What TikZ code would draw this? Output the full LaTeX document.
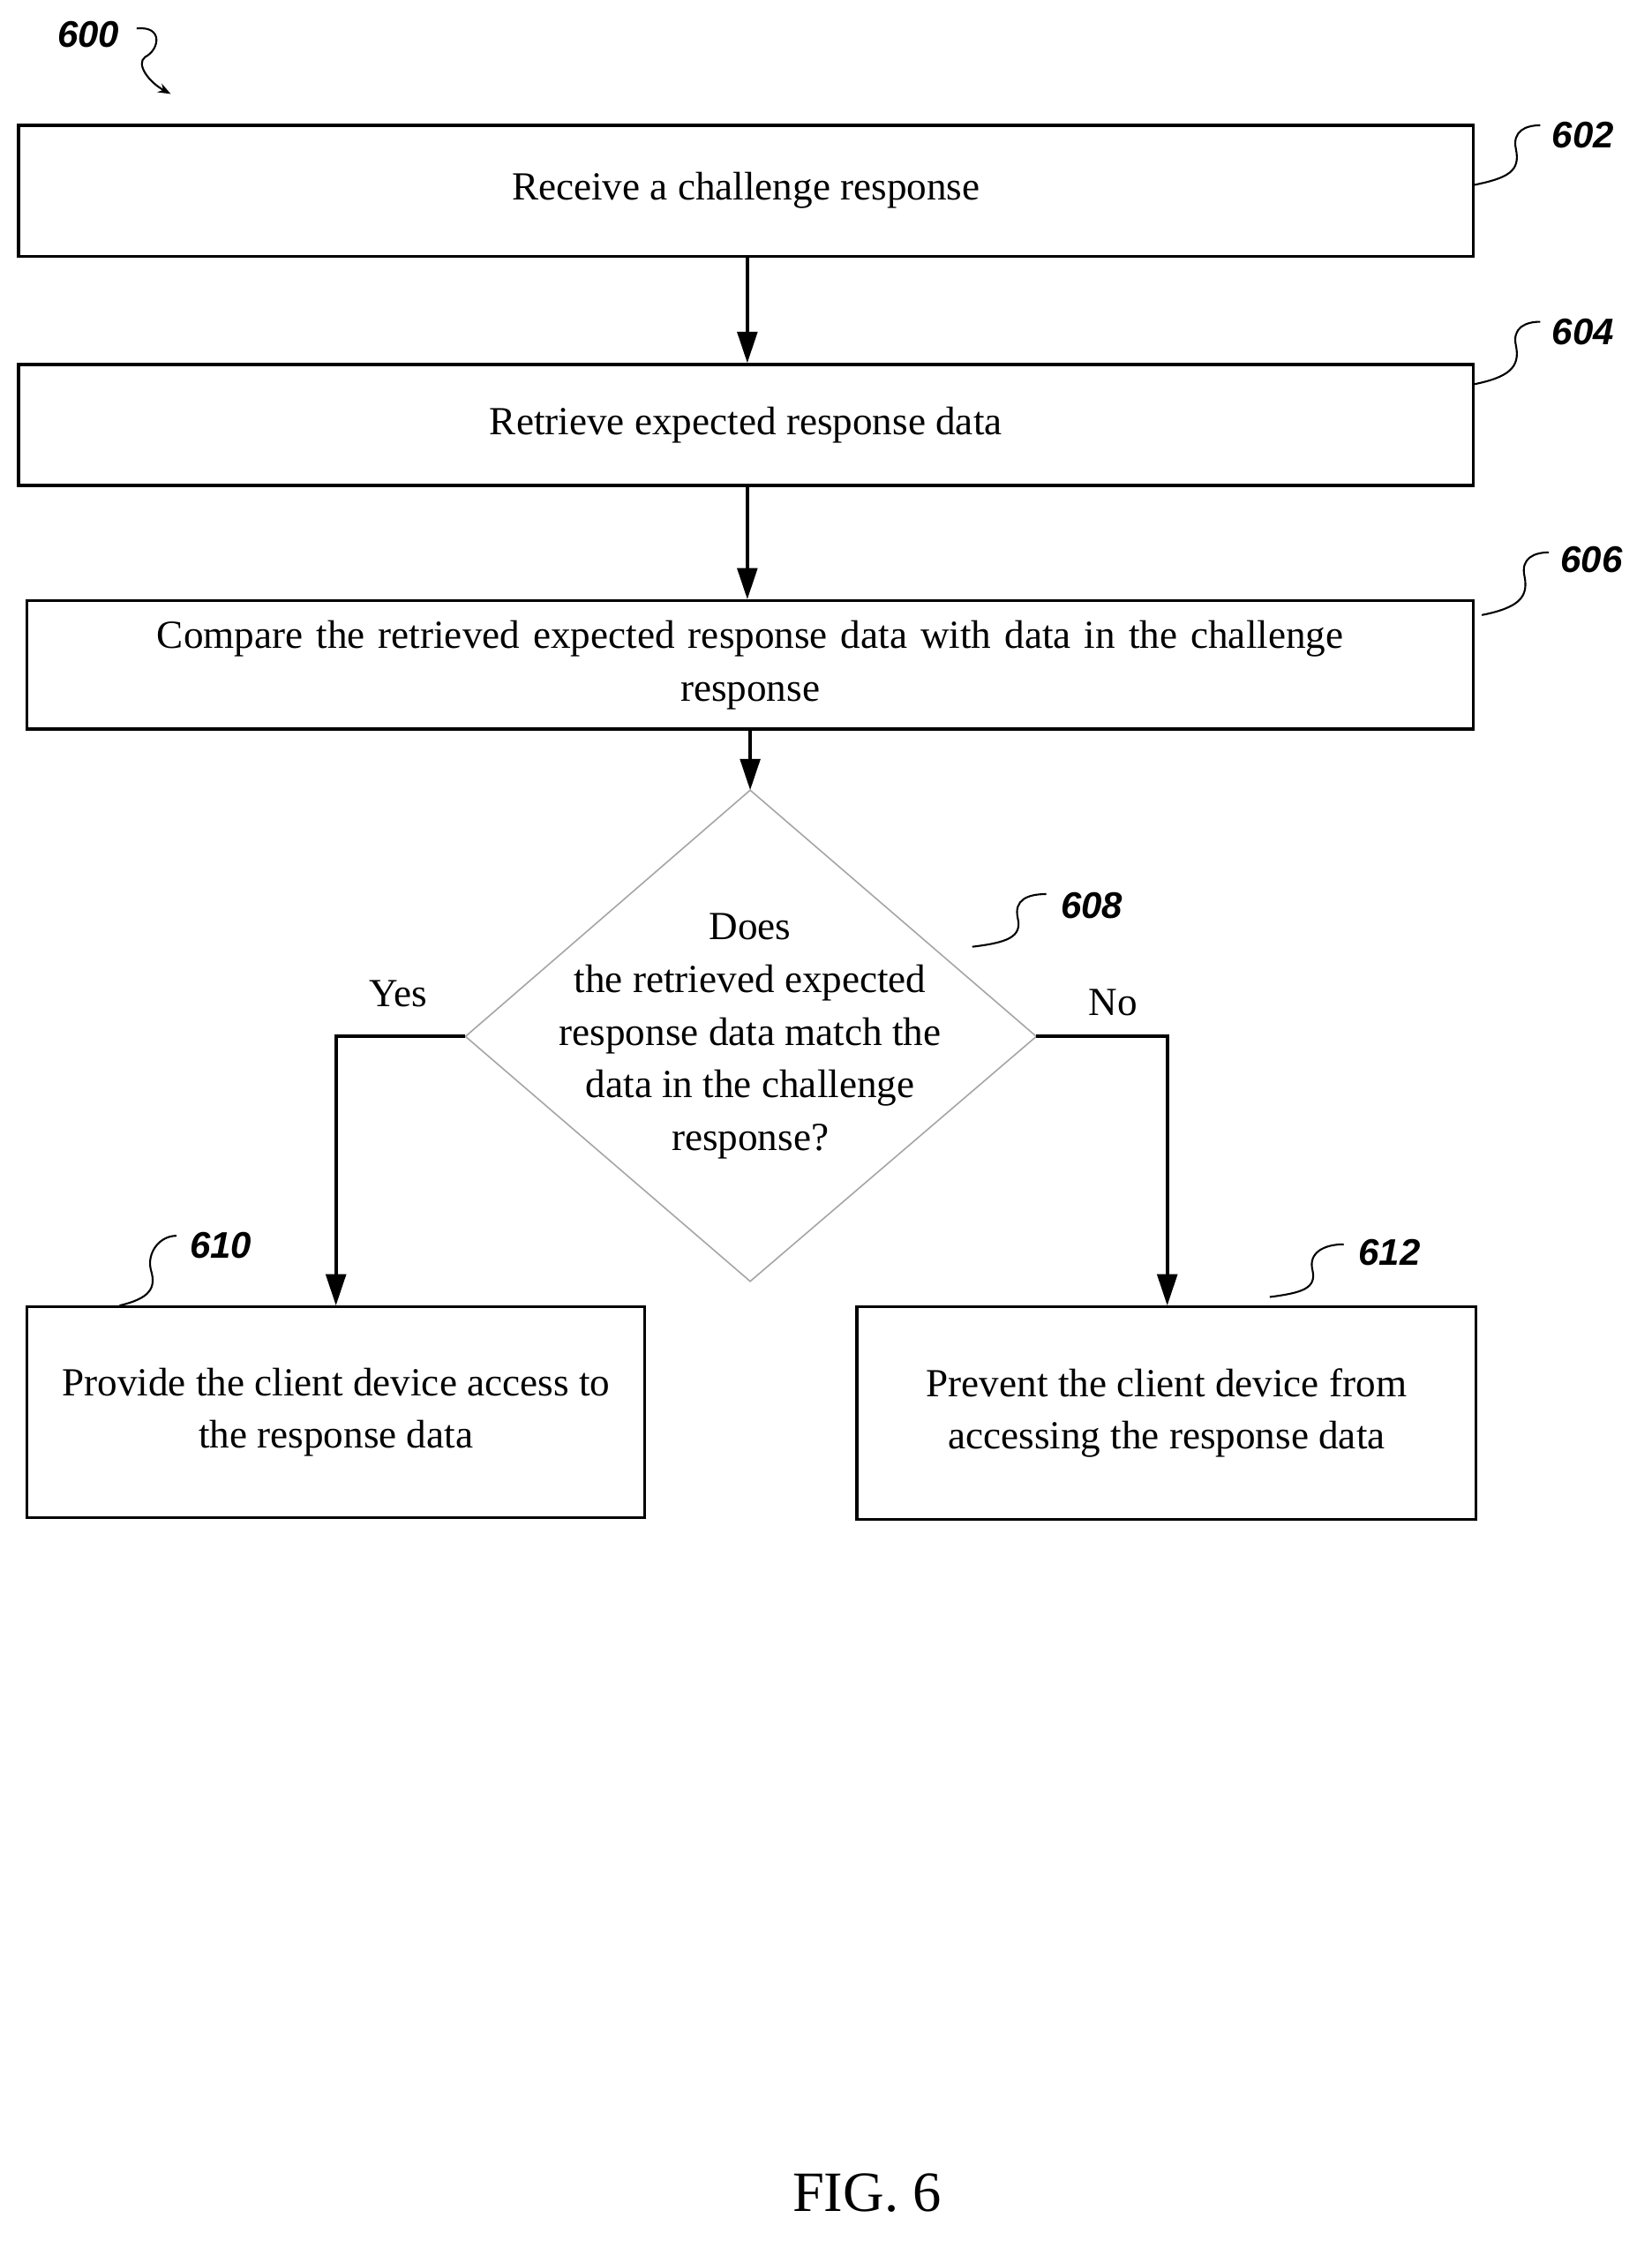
\documentclass[tikz,border=0pt]{standalone}
\usepackage{fontspec}
\setmainfont{Liberation Serif}
\newfontfamily\refsf{Liberation Sans}
\usetikzlibrary{arrows.meta,shapes.geometric}
\begin{document}
\begin{tikzpicture}[x=1pt,y=-1pt,
  box/.style={draw,line width=2pt,align=center,font=\fontsize{28}{37}\selectfont,inner sep=0},
  lbl/.style={font=\fontsize{28}{37}\selectfont},
  refn/.style={font=\refsf\bfseries\itshape\fontsize{26}{30}\selectfont},
  arr/.style={line width=2.4pt,-{Triangle[length=22pt,width=14pt]}},
  sq/.style={line width=1.3pt}]
\useasboundingbox (0,0) rectangle (1160,1579);
\node[box,minimum width=1022pt,minimum height=92pt] (b602) at (524,134) {Receive a challenge response};
\node[box,minimum width=1022pt,minimum height=85pt] (b604) at (524,298.5) {Retrieve expected response data};
\node[box,minimum width=1016pt,minimum height=90pt,text width=1000pt] (b606) at (527,467) {Compare the retrieved expected response data with data in the challenge\\response};
\coordinate (dt) at (527,555); \coordinate (db) at (527,900);
\coordinate (dl) at (327,728); \coordinate (dr) at (728,728);
\draw[line width=1pt,gray!70] (dt) -- (dr) -- (db) -- (dl) -- cycle;
\node[lbl,align=center] (d608) at (527,728) {Does\\the retrieved expected\\response data match the\\data in the challenge\\response?};
\node[box,minimum width=434pt,minimum height=148pt] (b610) at (236,992) {Provide the client device access to\\the response data};
\node[box,minimum width=435pt,minimum height=149pt] (b612) at (819.5,992.5) {Prevent the client device from\\accessing the response data};
\draw[arr] (b602.south -| 525,0) -- (b604.north -| 525,0);
\draw[arr] (b604.south -| 525,0) -- (b606.north -| 525,0);
\draw[arr] (b606.south -| 527,0) -- (dt);
\draw[arr] (dl) -- (236,728) -- (b610.north);
\draw[arr] (dr) -- (820,728) -- (b612.north -| 820,0);
\node[lbl] (yes) at (280,698) {Yes};
\node[lbl] (no) at (782,704) {No};
\node[refn] (r600) at (62,24) {600};
\node[refn] (r602) at (1112,95) {602};
\node[refn] (r604) at (1112,233) {604};
\node[refn] (r606) at (1118,393) {606};
\node[refn] (r608) at (767,636) {608};
\node[refn] (r610) at (155,875) {610};
\node[refn] (r612) at (976,880) {612};
\draw[sq,-{Stealth[length=9pt]}] (96,20) .. controls (115,18) and (112,35) .. (102,40) .. controls (95,45) and (105,58) .. (120,66);
\draw[sq] (1035,130) .. controls (1060,125) and (1068,120) .. (1065,105) .. controls (1062,92) and (1072,88) .. (1082,88);
\draw[sq] (1035,270) .. controls (1060,265) and (1068,258) .. (1065,243) .. controls (1062,230) and (1072,226) .. (1082,226);
\draw[sq] (1041,432) .. controls (1066,427) and (1074,420) .. (1071,405) .. controls (1068,392) and (1078,388) .. (1088,388);
\draw[sq] (683,665) .. controls (708,662) and (718,658) .. (715,645) .. controls (712,632) and (722,628) .. (735,628);
\draw[sq] (84,917) .. controls (105,912) and (110,905) .. (106,892) .. controls (103,880) and (112,868) .. (124,868);
\draw[sq] (892,911) .. controls (915,908) and (925,905) .. (922,892) .. controls (919,880) and (930,874) .. (944,874);
\node[font=\fontsize{40}{48}\selectfont] (fig) at (609,1540) {FIG. 6};
\end{tikzpicture}
\end{document}
